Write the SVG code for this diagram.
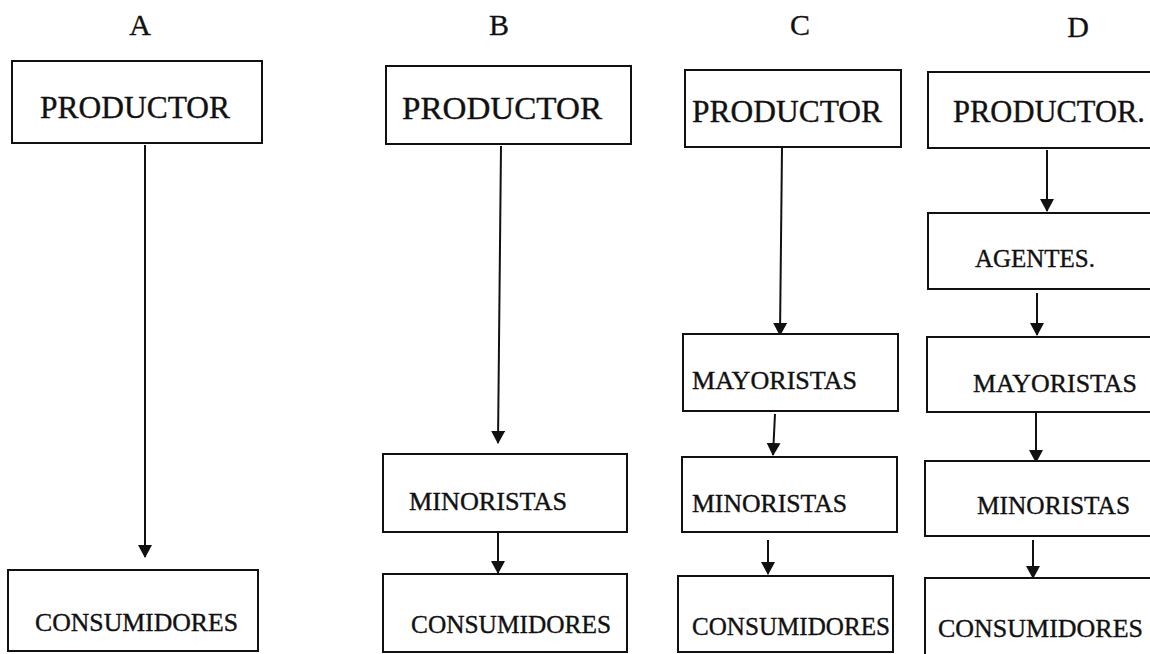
<svg xmlns="http://www.w3.org/2000/svg" width="1150" height="654" viewBox="0 0 1150 654">
<style>
.box{fill:#fff;stroke:#111;stroke-width:2}
.t{font-family:"Liberation Serif","Times New Roman",serif;fill:#111;stroke:#111;stroke-width:0.35;font-size:25px}
.big{font-size:31px}
.hd{font-family:"Liberation Serif","Times New Roman",serif;fill:#111;stroke:#111;stroke-width:0.3;font-size:30px;text-anchor:middle}
.c{stroke:#111;stroke-width:2;fill:none;marker-end:url(#ah)}
</style>
<defs>
<marker id="ah" markerUnits="userSpaceOnUse" markerWidth="13" markerHeight="14" refX="12" refY="7" orient="auto" viewBox="0 0 13 14">
<path d="M0,0 L13,7 L0,14 z" fill="#111"/>
</marker>
</defs>
<rect width="1150" height="654" fill="#fff"/>
<g id="headers">
<text class="hd" x="140" y="35">A</text>
<text class="hd" x="499" y="35">B</text>
<text class="hd" x="800" y="35">C</text>
<text class="hd" x="1078" y="37">D</text>
</g>
<g id="connectors">
<line class="c" x1="145" y1="145" x2="145" y2="557"/>
<line class="c" x1="501" y1="146" x2="498" y2="443"/>
<line class="c" x1="498" y1="533" x2="498" y2="573"/>
<line class="c" x1="782" y1="148" x2="780" y2="335"/>
<line class="c" x1="775" y1="414" x2="773" y2="455"/>
<line class="c" x1="768" y1="540" x2="768" y2="574"/>
<line class="c" x1="1047" y1="150" x2="1047" y2="211"/>
<line class="c" x1="1037" y1="293" x2="1037" y2="335"/>
<line class="c" x1="1036" y1="413" x2="1036" y2="462"/>
<line class="c" x1="1033" y1="540" x2="1033" y2="578"/>
</g>
<g id="a-productor"><rect class="box" x="12" y="61" width="250" height="82"/><text class="t big" x="40" y="118" textLength="190" lengthAdjust="spacingAndGlyphs">PRODUCTOR</text></g>
<g id="a-consumidores"><rect class="box" x="8" y="570" width="250" height="81"/><text class="t" x="35" y="631" textLength="203" lengthAdjust="spacingAndGlyphs">CONSUMIDORES</text></g>
<g id="b-productor"><rect class="box" x="386" y="66" width="245" height="78"/><text class="t big" x="402" y="119" textLength="200" lengthAdjust="spacingAndGlyphs">PRODUCTOR</text></g>
<g id="b-minoristas"><rect class="box" x="383" y="454" width="244" height="78"/><text class="t" x="409" y="510" textLength="158" lengthAdjust="spacingAndGlyphs">MINORISTAS</text></g>
<g id="b-consumidores"><rect class="box" x="383" y="574" width="244" height="78"/><text class="t" x="411" y="633" textLength="200" lengthAdjust="spacingAndGlyphs">CONSUMIDORES</text></g>
<g id="c-productor"><rect class="box" x="685" y="70" width="216" height="77"/><text class="t big" x="692" y="122" textLength="190" lengthAdjust="spacingAndGlyphs">PRODUCTOR</text></g>
<g id="c-mayoristas"><rect class="box" x="683" y="334" width="215" height="77"/><text class="t" x="692" y="389" textLength="165" lengthAdjust="spacingAndGlyphs">MAYORISTAS</text></g>
<g id="c-minoristas"><rect class="box" x="682" y="457" width="215" height="75"/><text class="t" x="692" y="512" textLength="155" lengthAdjust="spacingAndGlyphs">MINORISTAS</text></g>
<g id="c-consumidores"><rect class="box" x="678" y="576" width="215" height="76"/><text class="t" x="692" y="635" textLength="198" lengthAdjust="spacingAndGlyphs">CONSUMIDORES</text></g>
<g id="d-productor"><rect class="box" x="928" y="72" width="230" height="76"/><text class="t big" x="953" y="122" textLength="192" lengthAdjust="spacingAndGlyphs">PRODUCTOR.</text></g>
<g id="d-agentes"><rect class="box" x="928" y="213" width="230" height="76"/><text class="t" x="975" y="267" textLength="120" lengthAdjust="spacingAndGlyphs">AGENTES.</text></g>
<g id="d-mayoristas"><rect class="box" x="927" y="337" width="230" height="75"/><text class="t" x="973" y="392" textLength="164" lengthAdjust="spacingAndGlyphs">MAYORISTAS</text></g>
<g id="d-minoristas"><rect class="box" x="925" y="461" width="230" height="75"/><text class="t" x="977" y="514" textLength="153" lengthAdjust="spacingAndGlyphs">MINORISTAS</text></g>
<g id="d-consumidores"><rect class="box" x="925" y="578" width="230" height="80"/><text class="t" x="938" y="637" textLength="205" lengthAdjust="spacingAndGlyphs">CONSUMIDORES</text></g>
</svg>
